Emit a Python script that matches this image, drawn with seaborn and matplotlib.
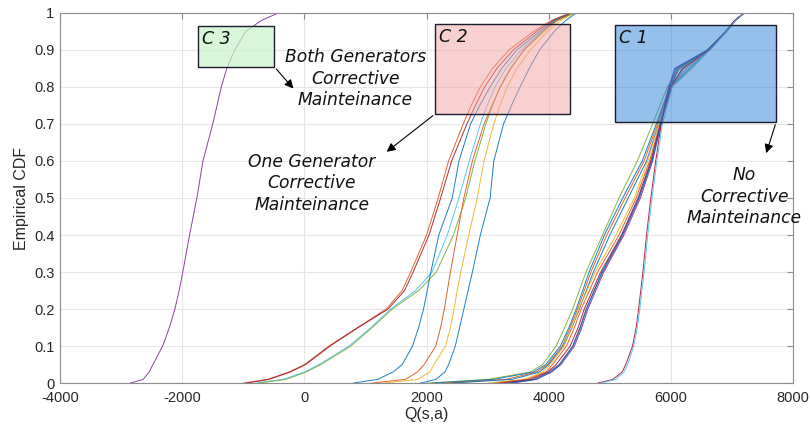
import matplotlib
matplotlib.use("Agg")
import matplotlib.pyplot as plt
import seaborn as sns
import numpy as np
from matplotlib.patches import Rectangle
from matplotlib.ticker import FuncFormatter

F_LEVELS = [0, 0.01, 0.03, 0.05, 0.1, 0.15, 0.2, 0.25, 0.3, 0.4, 0.5,
            0.6, 0.7, 0.75, 0.8, 0.85, 0.9, 0.95, 0.98, 1.0]

# C 3 - both generators in corrective maintenance
c3_purple = [-2850, -2640, -2540, -2480, -2320, -2210, -2120, -2050, -1990, -1880, -1760,
             -1660, -1500, -1430, -1360, -1270, -1140, -960, -700, -420]

# C 2 - one generator in corrective maintenance
c2_orange_tail = [-1000, -600, -250, 0, 400, 870, 1340, 1600, 1740, 2000, 2190,
                  2360, 2600, 2730, 2880, 3080, 3350, 3750, 4050, 4350]
c2_red_tail = [-950, -580, -230, 20, 420, 880, 1370, 1640, 1780, 2040, 2230,
               2410, 2660, 2800, 2950, 3150, 3420, 3800, 4080, 4370]
c2_cyan_tail = [-800, -350, 0, 240, 730, 1090, 1410, 1820, 2090, 2340, 2530,
                2700, 2880, 2990, 3120, 3300, 3550, 3880, 4120, 4400]
c2_green_tail = [-750, -300, 30, 270, 760, 1110, 1440, 1870, 2160, 2440, 2640,
                 2790, 2970, 3080, 3200, 3370, 3600, 3920, 4150, 4420]
c2_blue1 = [800, 1200, 1450, 1600, 1770, 1870, 1950, 2010, 2070, 2200, 2420,
            2530, 2720, 2870, 3040, 3230, 3480, 3850, 4100, 4380]
c2_orange2 = [1100, 1650, 1850, 1960, 2150, 2230, 2290, 2340, 2390, 2500, 2610,
              2750, 2940, 3070, 3210, 3380, 3590, 3900, 4130, 4400]
c2_yellow = [1300, 1850, 2050, 2120, 2310, 2390, 2450, 2500, 2560, 2690, 2830,
             2940, 3100, 3200, 3320, 3480, 3700, 3980, 4200, 4420]
c2_blue2 = [1900, 2150, 2300, 2360, 2470, 2540, 2610, 2680, 2750, 2880, 3040,
            3100, 3260, 3390, 3530, 3680, 3850, 4090, 4280, 4450]

# C 1 - no corrective maintenance
c1_green = [2000, 3000, 3700, 3900, 4120, 4260, 4390, 4500, 4610, 4880, 5150,
            5450, 5700, 5820, 5940, 6150, 6600, 6900, 7050, 7200]
c1_blue = [2100, 3100, 3750, 3950, 4190, 4330, 4450, 4555, 4660, 4910, 5210,
           5530, 5760, 5870, 5980, 6200, 6620, 6910, 7060, 7200]
c1_red = [2300, 3300, 3800, 3980, 4220, 4350, 4470, 4580, 4690, 4950, 5250,
          5560, 5780, 5880, 5990, 6250, 6610, 6900, 7050, 7200]
c1_cyan = [2400, 3400, 3850, 4000, 4240, 4380, 4500, 4615, 4730, 5000, 5300,
           5600, 5800, 5900, 6000, 6300, 6630, 6910, 7060, 7200]
c1_yellow = [3000, 3600, 3900, 4020, 4250, 4380, 4490, 4625, 4760, 5100, 5400,
             5620, 5800, 5900, 6010, 6350, 6620, 6900, 7050, 7200]
c1_orange = [3100, 3650, 3950, 4060, 4290, 4420, 4530, 4665, 4800, 5150, 5430,
             5650, 5820, 5920, 6020, 6180, 6640, 6910, 7060, 7200]
c1_purple = [3300, 3750, 4000, 4170, 4390, 4510, 4610, 4745, 4880, 5210, 5480,
             5680, 5830, 5895, 5960, 6080, 6600, 6900, 7050, 7200]
c1_red2 = [3200, 3700, 3980, 4120, 4350, 4480, 4580, 4715, 4850, 5190, 5460,
           5670, 5830, 5915, 6000, 6120, 6610, 6900, 7050, 7200]
c1_purple2 = [3400, 3800, 4050, 4200, 4420, 4540, 4640, 4770, 4900, 5230, 5500,
              5700, 5840, 5905, 5970, 6060, 6600, 6900, 7050, 7200]
c1_blue2 = [3350, 3780, 4030, 4180, 4400, 4520, 4620, 4745, 4870, 5200, 5470,
            5690, 5830, 5905, 5980, 6100, 6600, 6900, 7050, 7200]
c1_red_steep = [4800, 5050, 5200, 5260, 5370, 5430, 5470, 5505, 5540, 5600, 5670,
                5750, 5840, 5910, 5990, 6200, 6610, 6900, 7050, 7200]
c1_cyan_steep = [4850, 5100, 5230, 5290, 5390, 5450, 5490, 5525, 5560, 5620, 5690,
                 5770, 5860, 5940, 6020, 6320, 6640, 6910, 7060, 7200]

# matlab default colour order
BLUE, ORANGE, YELLOW, PURPLE = "#0072BD", "#D95319", "#EDB120", "#7E2F8E"
GREEN, CYAN, RED = "#77AC30", "#4DBEEE", "#A2142F"

curves = [
    (c3_purple, PURPLE),
    (c2_orange_tail, ORANGE), (c2_red_tail, RED), (c2_cyan_tail, CYAN),
    (c2_green_tail, GREEN), (c2_blue1, BLUE), (c2_orange2, ORANGE),
    (c2_yellow, YELLOW), (c2_blue2, BLUE),
    (c1_green, GREEN), (c1_blue, BLUE), (c1_red, ORANGE), (c1_cyan, BLUE),
    (c1_yellow, YELLOW), (c1_orange, ORANGE), (c1_purple, PURPLE),
    (c1_red2, RED), (c1_purple2, PURPLE), (c1_blue2, BLUE),
    (c1_red_steep, RED), (c1_cyan_steep, CYAN),
]

sns.set_style("white")
plt.rcParams['font.family'] = ['DejaVu Sans']
plt.rcParams['axes.unicode_minus'] = False

fig = plt.figure(figsize=(8.11, 4.29), dpi=100)
ax = fig.add_axes([0.074, 0.107, 0.904, 0.863])

for xs, col in curves:
    sns.lineplot(x=xs, y=F_LEVELS, color=col, linewidth=0.7, alpha=0.9,
                 sort=False, ax=ax)

ax.set_xlim(-4000, 8000)
ax.set_ylim(0, 1)
ax.set_xticks(np.arange(-4000, 8001, 2000))
ax.set_yticks(np.arange(0, 1.01, 0.1))
ax.yaxis.set_major_formatter(FuncFormatter(lambda v, p: f"{v:g}"))
ax.grid(True, color="#e6e6e6", linewidth=0.8)
ax.set_axisbelow(True)
for s in ax.spines.values():
    s.set_color("#8c8c8c")
    s.set_linewidth(0.8)
ax.tick_params(direction="in", length=4, color="#8c8c8c", labelsize=10.5,
               labelcolor="#262626", top=True, right=True,
               labeltop=False, labelright=False)
ax.tick_params(axis="x", pad=6)
ax.tick_params(axis="y", pad=4)
for lab in ax.get_xticklabels() + ax.get_yticklabels():
    lab.set_family("Liberation Sans")
ax.set_xlabel("Q(s,a)", fontsize=11.5, color="#262626", family="Liberation Sans",
              labelpad=1)
ax.set_ylabel("Empirical CDF", fontsize=11.5, color="#262626",
              family="Liberation Sans", labelpad=4)

# cluster boxes
boxes = [
    ("C 3", -1747, -490, 0.854, 0.965, "#c8f5c8", 0.7),
    ("C 2", 2139, 4343, 0.727, 0.970, "#f5a3a3", 0.5),
    ("C 1", 5078, 7722, 0.705, 0.968, "#2a82d8", 0.5),
]
for name, x0, x1, y0, y1, fc, a in boxes:
    ax.add_patch(Rectangle((x0, y0), x1 - x0, y1 - y0, facecolor=fc, alpha=a,
                           edgecolor="none", zorder=5))
    ax.add_patch(Rectangle((x0, y0), x1 - x0, y1 - y0, facecolor="none",
                           edgecolor="#1c1c30", linewidth=1.0, zorder=6))
    ax.text(x0 + 70, y1 - 0.012, name, style="italic", fontsize=12.5,
            color="#111111", va="top", ha="left", zorder=7)

arrow = dict(arrowstyle="-|>", color="black", linewidth=0.8, mutation_scale=13)
ax.annotate("", xy=(-150, 0.79), xytext=(-490, 0.854), arrowprops=arrow, zorder=7)
ax.annotate("", xy=(1310, 0.62), xytext=(2139, 0.727), arrowprops=arrow, zorder=7)
ax.annotate("", xy=(7545, 0.614), xytext=(7722, 0.705), arrowprops=arrow, zorder=7)

txt = dict(style="italic", fontsize=12.3, ha="center", va="center",
           linespacing=1.25, color="#111111", zorder=7)
ax.text(833, 0.822, "Both Generators\nCorrective\nMainteinance", **txt)
ax.text(122, 0.54, "One Generator\nCorrective\nMainteinance", **txt)
ax.text(7200, 0.503, "No\nCorrective\nMainteinance", clip_on=False, **txt)

fig.savefig("out.png", dpi=100)
